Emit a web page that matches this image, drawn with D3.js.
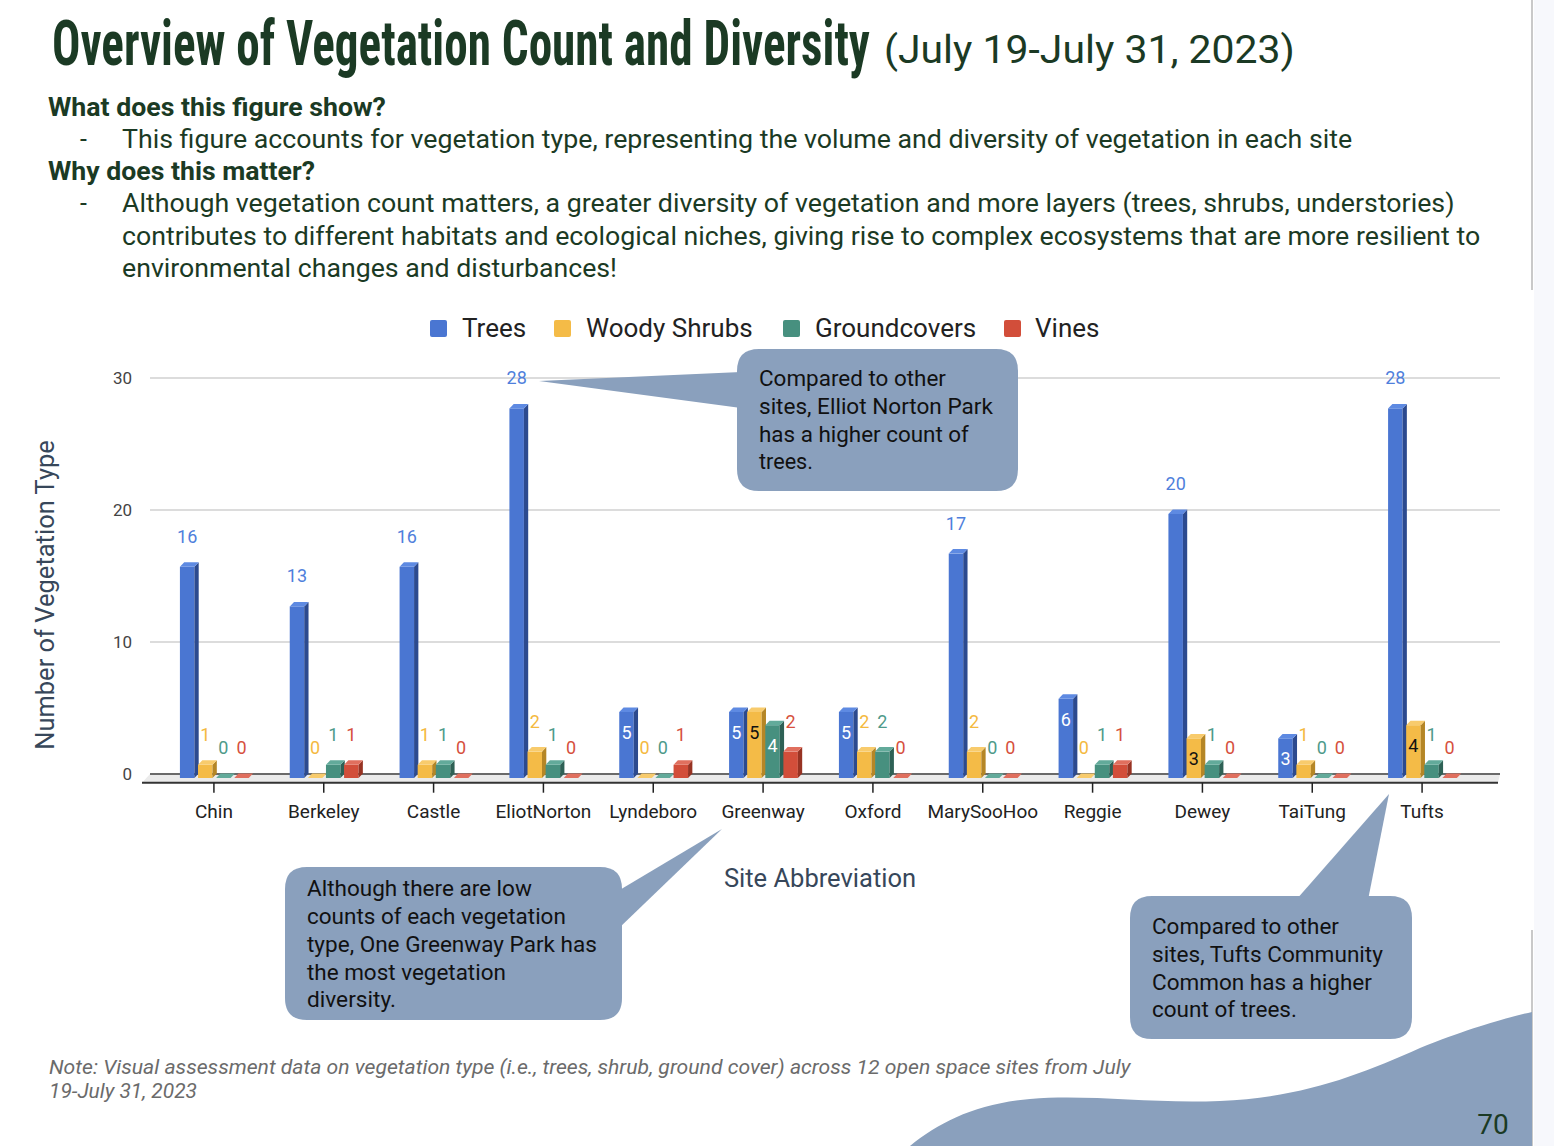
<!DOCTYPE html>
<html>
<head>
<meta charset="utf-8">
<script src="https://cdn.jsdelivr.net/npm/d3@7"></script>
<style>
  html, body { margin: 0; padding: 0; background: #ffffff; }
  svg { display: block; }
  text { font-family: Roboto, "Noto Sans", sans-serif; }
</style>
</head>
<body>
<svg id="chart" width="1554" height="1146"></svg>
<script>
// ---------------- data ----------------
const categories = ["Chin","Berkeley","Castle","EliotNorton","Lyndeboro","Greenway","Oxford","MarySooHoo","Reggie","Dewey","TaiTung","Tufts"];
const seriesNames = ["Trees","Woody Shrubs","Groundcovers","Vines"];
const trees        = [16,13,16,28,5,5,5,17,6,20,3,28];
const woodyShrubs  = [1,0,1,2,0,5,2,2,0,3,1,4];
const groundcovers = [0,1,1,1,0,4,2,0,1,1,0,1];
const vines        = [0,1,0,0,1,2,0,0,1,0,0,0];
const yTicks = [0,10,20,30];

// ---------------- styles ----------------
const faceColors = {
  "Trees":        {front:"#4a76d2", side:"#2c4a8f", top:"#5e8ae2", label:"#4f7fdc", inside:"#ffffff"},
  "Woody Shrubs": {front:"#f4bb47", side:"#b58626", top:"#f8cb6c", label:"#f4b940", inside:"#111111"},
  "Groundcovers": {front:"#47907f", side:"#2e6155", top:"#62aa9a", label:"#4e9a8a", inside:"#ffffff"},
  "Vines":        {front:"#d24e3a", side:"#973323", top:"#e06f5e", label:"#d6503d", inside:"#ffffff"}
};
const seriesValues = [trees, woodyShrubs, groundcovers, vines];
const darkGreen = "#1b3a24";
const calloutFill = "#8aa0bd";

const svg = d3.select("#chart");

// ---------------- page decorations ----------------
svg.append("rect").attr("x",1534).attr("y",0).attr("width",20).attr("height",1146).attr("fill","#f7f8fc");
svg.append("line").attr("x1",1532).attr("x2",1532).attr("y1",0).attr("y2",290).attr("stroke","#c9c9c9").attr("stroke-width",2);
svg.append("line").attr("x1",1532).attr("x2",1532).attr("y1",930).attr("y2",1146).attr("stroke","#c9c9c9").attr("stroke-width",2);

// wave
svg.append("path")
  .attr("d","M910,1146 C940,1122 975,1104 1030,1099 C1090,1094 1150,1104 1220,1101 C1300,1098 1360,1075 1420,1048 C1470,1028 1505,1018 1532,1012 L1532,1146 Z")
  .attr("fill", calloutFill);

svg.append("text").attr("x",1493).attr("y",1134).attr("text-anchor","middle")
  .attr("font-size",28).attr("fill",darkGreen).text("70");

// text fitted horizontally to a target width via a scale transform
function fitText(parent, x, y, s, opts) {
  const t = parent.append("text").attr("x",0).attr("y",0).text(s)
    .attr("font-size", opts.size).attr("fill", opts.fill || darkGreen);
  if (opts.weight) t.attr("font-weight", opts.weight);
  if (opts.style) t.attr("font-style", opts.style);
  if (opts.family) t.style("font-family", opts.family);
  const natural = t.node().getComputedTextLength();
  const sx = opts.len ? opts.len / natural : 1;
  t.attr("transform", `translate(${x},${y}) scale(${sx},1)`);
  return t;
}
fitText(svg, 52, 65, "Overview of Vegetation Count and Diversity", {size:62, weight:700, len:818, family:'"Roboto Condensed","Liberation Sans Narrow",Roboto,sans-serif'});
fitText(svg, 884, 63, "(July 19-July 31, 2023)", {size:38, len:411});

fitText(svg, 48, 116, "What does this figure show?", {size:25, weight:700, len:338});
fitText(svg, 80, 148, "-", {size:25});
fitText(svg, 122, 148, "This figure accounts for vegetation type, representing the volume and diversity of vegetation in each site", {size:25, len:1231});
fitText(svg, 48, 180, "Why does this matter?", {size:25, weight:700, len:267});
fitText(svg, 80, 212, "-", {size:25});
fitText(svg, 122, 212, "Although vegetation count matters, a greater diversity of vegetation and more layers (trees, shrubs, understories)", {size:25, len:1333});
fitText(svg, 122, 245, "contributes to different habitats and ecological niches, giving rise to complex ecosystems that are more resilient to", {size:25, len:1359});
fitText(svg, 122, 277, "environmental changes and disturbances!", {size:25, len:495});

fitText(svg, 49, 1074, "Note: Visual assessment data on vegetation type (i.e., trees, shrub, ground cover) across 12 open space sites from July", {size:21, style:"italic", fill:"#6b6b6b", len:1082});
fitText(svg, 49, 1098, "19-July 31, 2023", {size:21, style:"italic", fill:"#6b6b6b", len:148});

// ---------------- chart ----------------
const x = d3.scaleBand().domain(categories).range([159, 1477]);
const inner = d3.scaleBand().domain(seriesNames).range([-34, 34.8]).paddingInner(0.2).paddingOuter(0);
const y = d3.scaleLinear().domain([0, 30]).range([778, 382]);
const depthX = 4.3, depthY = 4.5, wallShift = 4;

// gridlines (back wall)
const grid = svg.append("g");
yTicks.filter(v => v > 0).forEach(v => {
  grid.append("line").attr("x1",150).attr("x2",1500)
    .attr("y1", y(v) - wallShift).attr("y2", y(v) - wallShift)
    .attr("stroke","#d0d0d0").attr("stroke-width",1.5);
});
// y tick labels
yTicks.forEach(v => {
  svg.append("text").attr("x",132).attr("y", y(v) - wallShift + 6)
    .attr("text-anchor","end").attr("font-size",17).attr("fill","#444").text(v);
});

// floor
const floorTop = y(0) - wallShift, floorBot = y(0) + wallShift + 0.7;
svg.append("path")
  .attr("d", `M150,${floorTop} L1500,${floorTop} L1498,${floorBot} L142,${floorBot} Z`)
  .attr("fill","#ebebeb");
svg.append("line").attr("x1",150).attr("x2",1500).attr("y1",floorTop).attr("y2",floorTop)
  .attr("stroke","#6a6a6a").attr("stroke-width",1.8);
svg.append("line").attr("x1",142).attr("x2",1498).attr("y1",floorBot).attr("y2",floorBot)
  .attr("stroke","#333").attr("stroke-width",2);
// ticks
categories.forEach(c => {
  const cx = x(c) + x.bandwidth()/2;
  svg.append("line").attr("x1",cx).attr("x2",cx).attr("y1",floorBot).attr("y2",floorBot+10)
    .attr("stroke","#222").attr("stroke-width",1.5);
  svg.append("text").attr("x",cx).attr("y",818).attr("text-anchor","middle")
    .attr("font-size",19).attr("fill","#222").text(c);
});

// bars
const barsG = svg.append("g");
const labelsG = svg.append("g");
categories.forEach((c, ci) => {
  const cx = x(c) + x.bandwidth()/2;
  seriesNames.forEach((s, si) => {
    const v = seriesValues[si][ci];
    const col = faceColors[s];
    const x0 = cx + inner(s), w = inner.bandwidth();
    const yb = y(0), yt = y(v);
    const g = barsG.append("g");
    if (v > 0) {
      g.append("rect").attr("x",x0).attr("y",yt).attr("width",w).attr("height",yb-yt).attr("fill",col.front);
      g.append("path").attr("d",`M${x0+w},${yt} L${x0+w+depthX},${yt-depthY} L${x0+w+depthX},${yb-depthY} L${x0+w},${yb} Z`).attr("fill",col.side);
    }
    g.append("path").attr("d",`M${x0},${yt} L${x0+w},${yt} L${x0+w+depthX},${yt-depthY} L${x0+depthX},${yt-depthY} Z`).attr("fill", col.top);

    const inside = v >= 3 && v <= 6;
    labelsG.append("text")
      .attr("x", x0 + w/2).attr("y", inside ? yt + 27 : yt - 24)
      .attr("text-anchor","middle").attr("font-size",18)
      .attr("fill", inside ? col.inside : col.label)
      .text(v);
  });
});

// axis titles
svg.append("text").attr("transform","translate(54,595) rotate(-90)")
  .attr("text-anchor","middle").attr("font-size",25.5).attr("fill","#37475a").text("Number of Vegetation Type");
svg.append("text").attr("x",820).attr("y",887).attr("text-anchor","middle")
  .attr("font-size",25.5).attr("fill","#37475a").text("Site Abbreviation");

// legend
const legendItems = [
  {name:"Trees", sx:430, tx:462},
  {name:"Woody Shrubs", sx:554, tx:586},
  {name:"Groundcovers", sx:783, tx:815},
  {name:"Vines", sx:1004, tx:1035}
];
legendItems.forEach(d => {
  svg.append("rect").attr("x",d.sx).attr("y",320).attr("width",17).attr("height",17).attr("rx",2)
    .attr("fill", faceColors[d.name].front);
  svg.append("text").attr("x",d.tx).attr("y",337).attr("font-size",26).attr("fill","#222").text(d.name);
});

// ---------------- callouts ----------------
function roundRect(x0,y0,x1,y1,r){
  return `M${x0+r},${y0} L${x1-r},${y0} Q${x1},${y0} ${x1},${y0+r} L${x1},${y1-r} Q${x1},${y1} ${x1-r},${y1} L${x0+r},${y1} Q${x0},${y1} ${x0},${y1-r} L${x0},${y0+r} Q${x0},${y0} ${x0+r},${y0} Z`;
}
const callouts = [
  {rect:[737,349,1018,491], tri:[[741,372],[539,381],[741,408]], tx:759, ty:[386,414,442,469],
   lines:["Compared to other","sites, Elliot Norton Park","has a higher count of","trees."], lens:[187,234,210,54]},
  {rect:[285,867,622,1020], tri:[[618,891],[722,829],[618,929]], tx:307, ty:[896,924,952,980,1007],
   lines:["Although there are low","counts of each vegetation","type, One Greenway Park has","the most vegetation","diversity."], lens:[225,259,290,199,89]},
  {rect:[1130,896,1412,1039], tri:[[1296,900],[1389,794],[1368,900]], tx:1152, ty:[934,962,990,1017],
   lines:["Compared to other","sites, Tufts Community","Common has a higher","count of trees."], lens:[187,231,220,145]}
];
callouts.forEach(c => {
  const [x0,y0,x1,y1] = c.rect;
  svg.append("path").attr("d", roundRect(x0,y0,x1,y1,22)).attr("fill", calloutFill);
  svg.append("path").attr("d", "M" + c.tri.map(p => p.join(",")).join(" L") + " Z").attr("fill", calloutFill);
  c.lines.forEach((l, i) => {
    fitText(svg, c.tx, c.ty[i], l, {size:22, fill:"#111", len:c.lens[i]});
  });
});
</script>
</body>
</html>
